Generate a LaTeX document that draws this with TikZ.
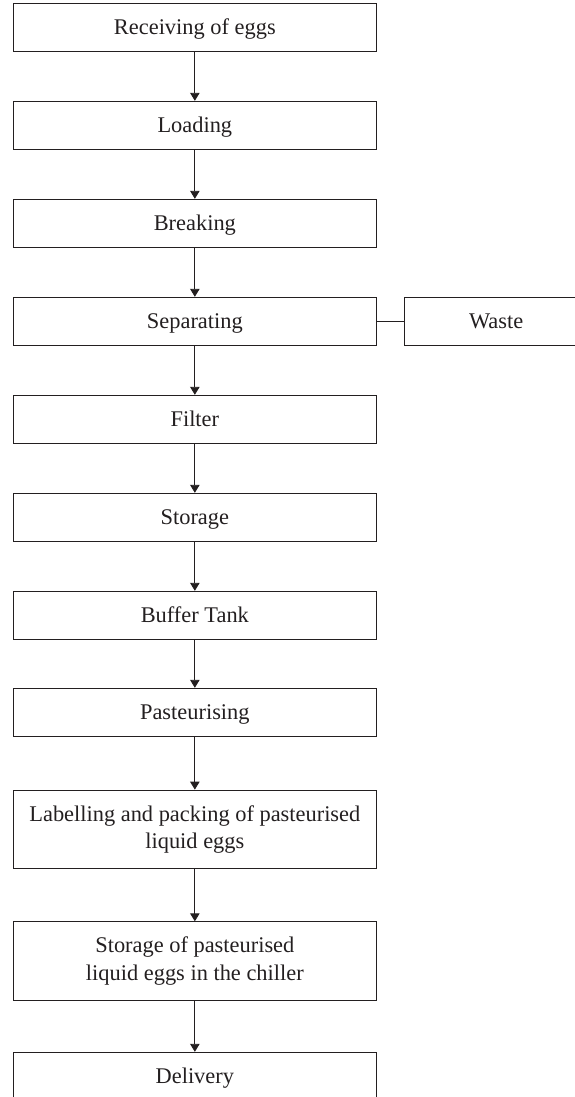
\documentclass[tikz,border=0pt]{standalone}
\usepackage{fontspec}
\setmainfont{Liberation Serif}
\usetikzlibrary{arrows.meta}
\definecolor{ink}{HTML}{231F20}
\begin{document}
\begin{tikzpicture}[x=1bp,y=-1bp,
  box/.style={draw=ink, line width=0.9bp, minimum width=363.7bp,
    minimum height=48.5bp, inner sep=0pt, text=ink,
    font=\fontsize{22.4bp}{27.3bp}\selectfont},
  stage/.style={box, text height=16bp, text depth=2bp},
  tall/.style={box, align=center, minimum height=78.3bp},
  side/.style={stage, minimum width=183.7bp},
  flow/.style={draw=ink, line width=0.9bp, -{Triangle[width=9.5bp,length=8bp]}},
  link/.style={draw=ink, line width=0.9bp}]
\useasboundingbox (0,0) rectangle (575,1097);
\clip (0,0) rectangle (575,1097);

% main process chain
\node[stage] (receiving) at (194.85,27.5) {Receiving of eggs};
\node[stage] (loading) at (194.85,125.5) {Loading};
\node[stage] (breaking) at (194.85,223.5) {Breaking};
\node[stage] (separating) at (194.85,321.5) {Separating};
\node[stage] (filter) at (194.85,419.5) {Filter};
\node[stage] (storage) at (194.85,517.5) {Storage};
\node[stage] (buffer) at (194.85,615.5) {Buffer Tank};
\node[stage] (pasteurising) at (194.85,712.5) {Pasteurising};
\node[tall] (labelling) at (194.85,829.2) {Labelling and packing of pasteurised\\liquid eggs};
\node[tall] (chiller) at (194.85,960.9) {Storage of pasteurised\\liquid eggs in the chiller};
\node[stage] (delivery) at (194.85,1076.5) {Delivery};

% side branch
\node[side] (waste) at (496.2,321.5) {Waste};

\draw[flow] (receiving) -- (loading);
\draw[flow] (loading) -- (breaking);
\draw[flow] (breaking) -- (separating);
\draw[flow] (separating) -- (filter);
\draw[flow] (filter) -- (storage);
\draw[flow] (storage) -- (buffer);
\draw[flow] (buffer) -- (pasteurising);
\draw[flow] (pasteurising) -- (labelling);
\draw[flow] (labelling) -- (chiller);
\draw[flow] (chiller) -- (delivery);
\draw[link] (separating) -- (waste);
\end{tikzpicture}
\end{document}
